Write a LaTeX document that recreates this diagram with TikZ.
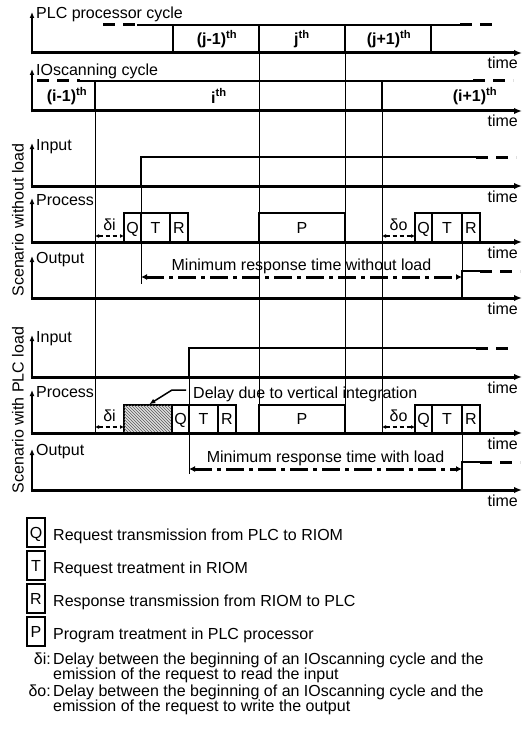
\documentclass[tikz,border=0pt]{standalone}
\usepackage{fontspec}
\setmainfont{Liberation Sans}
\usetikzlibrary{arrows.meta,positioning,calc,patterns}
\newcommand{\diagfont}{\fontsize{16}{19}\selectfont}
\tikzset{
  axis/.style={-{Latex[length=6pt,width=5pt]},line width=2.6pt},
  timeaxis/.style={-{Latex[length=8pt,width=6.5pt]},line width=3pt},
  edge/.style={line width=2pt},
  rim/.style={line width=1.5pt},
  tail/.style={line width=3pt,dash pattern=on 12pt off 8pt},
  guide/.style={line width=0.9pt},
  procbox/.style={draw,line width=2pt,minimum height=29pt,inner sep=0pt,outer sep=0pt,anchor=south west,
    text height=11.5pt,text depth=0pt},
  loadbox/.style={procbox,fill=gray!25,postaction={pattern=north west lines,pattern color=black!65}},
  gap/.style={{Latex[length=4pt,width=4pt]}-{Latex[length=4pt,width=4pt]},line width=1.3pt,dash pattern=on 4pt off 3pt},
  resp/.style={{Latex[length=6pt,width=6pt]}-{Latex[length=6pt,width=6pt]},line width=3pt,dash pattern=on 18pt off 5pt on 4pt off 5pt},
  pointer/.style={-{Latex[length=6pt,width=5pt]},line width=1.5pt,shorten >=1.5pt},
  axislabel/.style={anchor=base west,inner sep=0pt},
  timelabel/.style={anchor=base east,inner sep=0pt},
  cyclelabel/.style={font=\diagfont\bfseries,inner sep=0pt},
  scenario/.style={rotate=90,inner sep=0pt},
  legendbox/.style={draw,line width=2pt,minimum width=18pt,minimum height=29pt,inner sep=0pt,outer sep=0pt,
    text height=11.5pt,text depth=0pt},
  legendtext/.style={inner sep=0pt,text height=15pt,text depth=0pt},
  notetext/.style={anchor=base west,inner sep=0pt}
}
\begin{document}
\begin{tikzpicture}[x=1pt,y=-1pt,font=\diagfont]
  \useasboundingbox (0,0) rectangle (523,733);
  % PLC processor cycles
  \draw[tail] (103,25) -- (137,25);
  \draw[rim] (137,25) -- (460,25);
  \draw[tail] (460,25) -- (494,25);
  \foreach \x in {173,259,345,431} \draw[edge] (\x,25) -- (\x,53);
  \node[cyclelabel] (jm) at (217,39) {(j-1)\textsuperscript{th}};
  \node[cyclelabel] (jc) at (302,39) {j\textsuperscript{th}};
  \node[cyclelabel] (jp) at (389,39) {(j+1)\textsuperscript{th}};
  % IOscanning cycles
  \draw[tail] (37,81) -- (80,81);
  \draw[rim] (80,81) -- (473,81);
  \draw[tail] (473,81) -- (513,81);
  \foreach \x in {95,382} \draw[edge] (\x,81) -- (\x,111);
  \node[cyclelabel] (im) at (67,96) {(i-1)\textsuperscript{th}};
  \node[cyclelabel] (ic) at (219,96) {i\textsuperscript{th}};
  \node[cyclelabel] (ip) at (475,96) {(i+1)\textsuperscript{th}};
  % cycle boundaries
  \draw[guide] (95,111) -- (95,433);
  \draw[guide] (259,53) -- (259,433);
  \draw[guide] (345,53) -- (345,433);
  \draw[guide] (382,111) -- (382,433);

  % scenario without load
  \draw[edge] (141,186) -- (141,157) -- (476,157);
  \draw[tail] (476,157) -- (516,157);
  \draw[guide] (141,186) -- (141,284);
  \node[procbox,minimum width=17pt] (q1) at (124,242) {Q};
  \node[procbox,minimum width=29pt] (t1) at (141,242) {T};
  \node[procbox,minimum width=18pt] (r1) at (170,242) {R};
  \node[procbox,minimum width=86pt] (p1) at (259,242) {P};
  \node[procbox,minimum width=17pt] (q2) at (415,242) {Q};
  \node[procbox,minimum width=30pt] (t2) at (432,242) {T};
  \node[procbox,minimum width=18pt] (r2) at (462,242) {R};
  \draw[gap] (95,236) -- (q1.west |- 0,236) node[midway,above=5pt,inner sep=0pt] (di1) {δi};
  \draw[gap] (382,236) -- (q2.west |- 0,236) node[midway,above=5pt,inner sep=0pt] (do1) {δo};
  \draw[guide] (r2.south west) -- (462,271);
  \draw[edge] (462,298) -- (462,271) -- (480,271);
  \draw[tail] (480,271) -- (520,271);
  \coordinate (rs1) at (141,277);
  \coordinate (re1) at (462,277);
  \draw[resp] (rs1) -- (re1) node[midway,above=2pt,inner sep=0pt] (min1) {Minimum response time without load};

  % scenario with PLC load
  \draw[edge] (189,377) -- (189,348) -- (476,348);
  \draw[tail] (476,348) -- (514,348);
  \draw[guide] (189,377) -- (189,474);
  \node[loadbox,minimum width=48pt,minimum height=28pt] (hz) at (124,433) {};
  \node[procbox,minimum width=17pt,minimum height=28pt] (q3) at (172,433) {Q};
  \node[procbox,minimum width=29pt,minimum height=28pt] (t3) at (189,433) {T};
  \node[procbox,minimum width=18pt,minimum height=28pt] (r3) at (218,433) {R};
  \node[procbox,minimum width=86pt,minimum height=28pt] (p2) at (259,433) {P};
  \node[procbox,minimum width=17pt,minimum height=28pt] (q4) at (415,433) {Q};
  \node[procbox,minimum width=30pt,minimum height=28pt] (t4) at (432,433) {T};
  \node[procbox,minimum width=18pt,minimum height=28pt] (r4) at (462,433) {R};
  \draw[gap] (95,427) -- (hz.west |- 0,427) node[midway,above=5pt,inner sep=0pt] (di2) {δi};
  \draw[gap] (382,427) -- (q4.west |- 0,427) node[midway,above=5pt,inner sep=0pt] (do2) {δo};
  \node[anchor=base west,inner sep=0pt] (delay) at (193,398) {Delay due to vertical integration};
  \coordinate (dstart) at (186,390);
  \coordinate (dbend) at (172,390);
  \draw[pointer] (dstart) -- (dbend) -- (hz.north);
  \draw[guide] (r4.south west) -- (462,462);
  \draw[edge] (462,490) -- (462,462) -- (480,462);
  \draw[tail] (480,462) -- (520,462);
  \coordinate (rs2) at (189,469);
  \coordinate (re2) at (462,469);
  \draw[resp] (rs2) -- (re2) node[midway,above=2pt,inner sep=0pt] (min2) {Minimum response time with load};

  % axes
  \foreach \base/\tip/\lb/\txt [count=\k] in {53/12/19/PLC processor cycle,111/69/76/IOscanning cycle,
      186/143/150/Input,242/198/205/Process,298/256/263/Output,
      377/335/342/Input,433/390/397/Process,490/449/455/Output}{
    \draw[axis] (32,\base+1.5) -- (32,\tip);
    \draw[timeaxis] (30.7,\base) -- (522,\base);
    \node[axislabel] (lbl\k) at (36,\lb) {\txt};
    \node[timelabel] (time\k) at (518,\base+16) {time};
  }
  \node[scenario] (sc1) at (18,220) {Scenario without load};
  \node[scenario] (sc2) at (18,410) {Scenario with PLC load};

  % legend
  \node[legendbox] (lq) at (36,532.5) {Q};
  \node[legendbox,below=4pt of lq] (lt) {T};
  \node[legendbox,below=4pt of lt] (lr) {R};
  \node[legendbox,below=4pt of lr] (lp) {P};
  \node[legendtext,right=8pt of lq] (lqt) {Request transmission from PLC to RIOM};
  \node[legendtext,right=8pt of lt] (ltt) {Request treatment in RIOM};
  \node[legendtext,right=8pt of lr] (lrt) {Response transmission from RIOM to PLC};
  \node[legendtext,right=8pt of lp] (lpt) {Program treatment in PLC processor};
  \node[anchor=base east,inner sep=0pt] (dil) at (51,664) {δi:};
  \node[notetext] (dia) at (53,664) {Delay between the beginning of an IOscanning cycle and the};
  \node[notetext] (dib) at (53,679) {emission of the request to read the input};
  \node[anchor=base east,inner sep=0pt] (dol) at (51,696) {δo:};
  \node[notetext] (doa) at (53,696) {Delay between the beginning of an IOscanning cycle and the};
  \node[notetext] (dob) at (53,711) {emission of the request to write the output};
\end{tikzpicture}
\end{document}
